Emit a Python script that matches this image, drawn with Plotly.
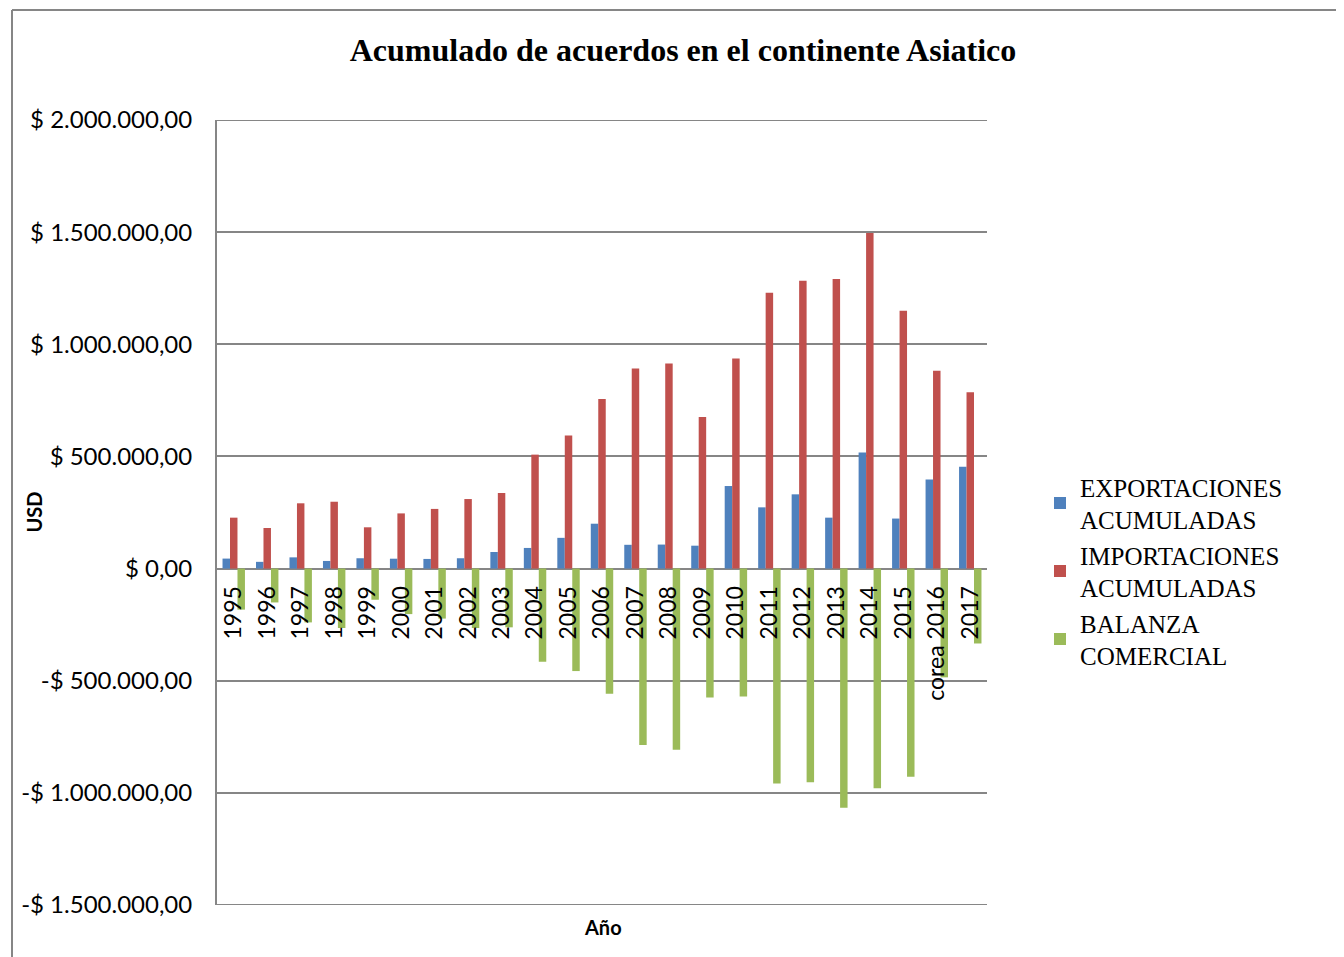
import plotly.graph_objects as go

years = ["1995", "1996", "1997", "1998", "1999", "2000", "2001", "2002", "2003", "2004",
         "2005", "2006", "2007", "2008", "2009", "2010", "2011", "2012", "2013", "2014",
         "2015", "corea 2016", "2017"]
exportaciones = [44500, 30000, 50000, 34000, 46000, 44000, 43000, 46000, 74000, 92000,
                 137000, 200000, 106000, 107000, 102000, 368000, 273000, 331000, 227000, 517000,
                 223000, 397000, 454000]
importaciones = [227000, 181000, 291000, 298000, 184000, 246000, 266000, 310000, 337000, 508000,
                 593000, 756000, 892000, 914000, 676000, 937000, 1230000, 1283000, 1291000, 1496000,
                 1150000, 882000, 786000]
balanza = [-183000, -151000, -240000, -265000, -139000, -203000, -223000, -265000, -262000, -415000,
           -457000, -558000, -787000, -808000, -575000, -570000, -958000, -953000, -1066000, -980000,
           -928000, -485000, -334000]

y_tickvals = [2000000, 1500000, 1000000, 500000, 0, -500000, -1000000, -1500000]
y_ticktext = ["$ 2.000.000,00", "$ 1.500.000,00", "$ 1.000.000,00", "$ 500.000,00", "$ 0,00",
              "-$ 500.000,00", "-$ 1.000.000,00", "-$ 1.500.000,00"]

# page has an 8px body margin: figure origin sits at (8, 8) in the screenshot
OFF = 8
W, H = 1344 - OFF, 957 - OFF
L, R, T, B = 217 - OFF, 987 - OFF, 120 - OFF, 905 - OFF
pw, ph = R - L, B - T

def px_x(p):
    return (p - OFF - L) / pw

def px_y(p):
    return (B - (p - OFF)) / ph

ymin, ymax = -1500000, 2000000
zero_pos = (0 - ymin) / (ymax - ymin)

SANS = "Lato, Carlito, Calibri, sans-serif"
SERIF = "Liberation Serif, Times New Roman, serif"
GRID = "#868686"

fig = go.Figure()
fig.add_trace(go.Bar(x=years, y=exportaciones, name="EXPORTACIONES<br>ACUMULADAS",
                     marker=dict(color="#4F81BD", line=dict(width=0))))
fig.add_trace(go.Bar(x=years, y=importaciones, name="IMPORTACIONES<br>ACUMULADAS",
                     marker=dict(color="#C0504D", line=dict(width=0))))
fig.add_trace(go.Bar(x=years, y=balanza, name="BALANZA<br>COMERCIAL",
                     marker=dict(color="#9BBB59", line=dict(width=0))))

fig.update_layout(
    width=W, height=H,
    margin=dict(l=L, r=W - R, t=T, b=H - B, pad=0),
    paper_bgcolor="white", plot_bgcolor="white",
    barmode="group", bargap=0.33, bargroupgap=0,
    title=dict(text="<b>Acumulado de acuerdos en el continente Asiatico</b>",
               x=((350 + 1016) / 2 - OFF) / W, xanchor="center",
               y=1 - (50 - OFF) / H, yanchor="middle",
               font=dict(family=SERIF, size=32, color="black")),
    legend=dict(x=px_x(1040), xanchor="left", y=px_y(464), yanchor="top",
                font=dict(family=SERIF, size=25, color="black"),
                itemwidth=30, itemsizing="constant", tracegroupgap=0,
                bgcolor="rgba(0,0,0,0)"),
    xaxis=dict(anchor="free", position=zero_pos, showline=False, showgrid=False,
               tickangle=-90, ticks="", tickfont=dict(family=SANS, size=23, color="black"),
               ticklabelstandoff=12),
    yaxis=dict(range=[ymin, ymax], domain=[0, 1], tickvals=y_tickvals, ticktext=y_ticktext,
               showgrid=True, gridcolor=GRID, gridwidth=2,
               zeroline=True, zerolinecolor=GRID, zerolinewidth=2,
               showline=True, linecolor=GRID, linewidth=2, ticks="",
               ticklabelstandoff=18,
               tickfont=dict(family=SANS, size=24, color="black")),
    annotations=[
        dict(text="<b>USD</b>", x=px_x(33), y=0.5, xref="paper", yref="paper",
             textangle=-90, showarrow=False, xanchor="center", yanchor="middle",
             font=dict(family=SANS, size=20, color="black")),
        dict(text="<b>Año</b>", x=px_x(603), y=px_y(927), xref="paper", yref="paper",
             showarrow=False, xanchor="center", yanchor="middle",
             font=dict(family=SANS, size=20, color="black")),
    ],
    shapes=[
        dict(type="line", xref="paper", yref="paper", x0=px_x(12), x1=px_x(1344),
             y0=px_y(10), y1=px_y(10), line=dict(color=GRID, width=2)),
        dict(type="line", xref="paper", yref="paper", x0=px_x(12), x1=px_x(12),
             y0=px_y(10), y1=px_y(957), line=dict(color=GRID, width=2)),
        dict(type="line", xref="paper", yref="y", x0=0, x1=1, y0=ymax, y1=ymax,
             line=dict(color=GRID, width=2), layer="below"),
        dict(type="line", xref="paper", yref="y", x0=0, x1=1, y0=ymin, y1=ymin,
             line=dict(color=GRID, width=2), layer="below"),
    ],
)

fig.write_html("out.html")
